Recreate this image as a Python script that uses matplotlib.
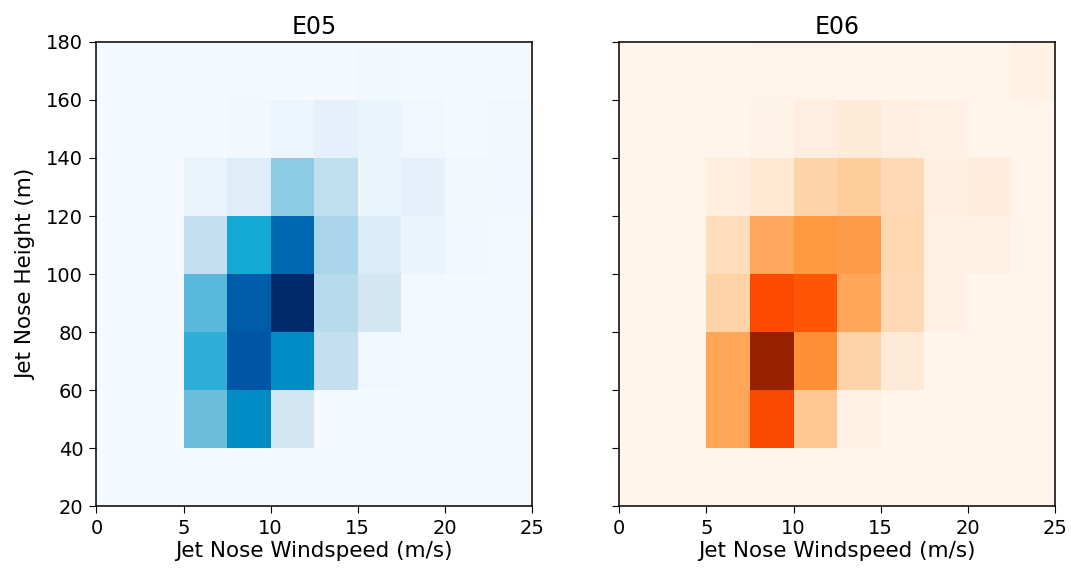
import numpy as np
import matplotlib
matplotlib.use("Agg")
from matplotlib import pyplot as plt
from matplotlib.colors import LinearSegmentedColormap

# bin edges of the 2D histograms
speed_edges = [0, 2.5, 5, 7.5, 10, 12.5, 15, 17.5, 20, 22.5, 25]
height_edges = [20, 40, 60, 80, 100, 120, 140, 160, 180]

# relative frequency (% of max), rows from 20-40 m up to 160-180 m
e05_counts = [
    [0, 0, 0, 0, 0, 0, 0, 0, 0, 0],
    [0, 0, 46, 68, 18, 0.8, 0, 0, 0, 0],
    [0, 0.8, 58, 82, 68, 25, 2.5, 0, 0, 0],
    [0, 0.8, 50, 80, 100, 28, 18, 1.5, 0, 0],
    [0, 1.5, 25, 62, 76, 31, 14, 6, 2.5, 0],
    [0, 0.5, 6, 12, 37.5, 26, 6, 9, 3, 2.5],
    [0, 0, 0, 2, 5, 9, 6, 2.5, 0, 3],
    [0, 0, 0, 1, 0, 0, 2, 1.5, 0, 0],
]

e06_counts = [
    [0, 0, 0, 0, 0, 0, 0, 0, 0, 0],
    [0, 0, 41, 75, 30, 4, 0, 0, 0, 0],
    [0, 0, 41, 100, 50, 24, 9, 0, 0, 0],
    [0, 0, 24, 73, 68, 41, 21, 4, 0, 0],
    [0, 0, 19, 40, 47, 45, 22, 4, 4, 0],
    [0, 0, 7, 12, 24, 27, 21, 5, 8, 0],
    [0, 0, 0, 2, 6, 9, 5, 4, 0, 0],
    [0, 0, 0, 1, 1, 0, 0, 0, 0, 3],
]

blues = LinearSegmentedColormap.from_list("blues_vivid", [
    (0.0, "#f5faff"), (0.1, "#e3eff9"), (0.25, "#c4dff0"), (0.375, "#8ecbe4"),
    (0.5, "#5bb8da"), (0.58, "#2eaed8"), (0.62, "#14a8d4"), (0.68, "#008ec6"),
    (0.76, "#0068b2"), (0.82, "#0056a5"), (1.0, "#002a6b")])
oranges = LinearSegmentedColormap.from_list("oranges_vivid", [
    (0.0, "#fff5eb"), (0.1, "#ffe9d6"), (0.2, "#ffdbb8"), (0.3, "#ffc790"),
    (0.4, "#ffa85c"), (0.5, "#ff9136"), (0.7, "#ff5000"), (0.75, "#fa4800"),
    (1.0, "#962200")])

plt.rcParams['xtick.labelsize'] = 14
plt.rcParams['ytick.labelsize'] = 14
plt.rcParams['xtick.major.size'] = 5
plt.rcParams['ytick.major.size'] = 5
plt.rcParams['xtick.major.pad'] = 4.5
plt.rcParams['ytick.major.pad'] = 4.5
plt.rcParams['axes.linewidth'] = 1.1

fig, axes = plt.subplots(1, 2, figsize=(10.71, 5.74), dpi=100, sharey=True)
fig.subplots_adjust(left=0.09, right=0.985, bottom=0.118, top=0.927, wspace=0.2)

for ax, counts, cmap, name in zip(axes, [e05_counts, e06_counts], [blues, oranges], ["E05", "E06"]):
    ax.pcolormesh(speed_edges, height_edges, np.array(counts), cmap=cmap, vmin=0, vmax=100)
    ax.set_xlim(0, 25)
    ax.set_ylim(20, 180)
    ax.set_xticks([0, 5, 10, 15, 20, 25])
    ax.set_yticks(range(20, 181, 20))
    ax.set_title(name, fontsize=17, pad=6)
    ax.set_xlabel('Jet Nose Windspeed (m/s)', fontsize=15.5, labelpad=2)

axes[0].set_ylabel('Jet Nose Height (m)', fontsize=15.5, labelpad=7)

plt.savefig("out.png", dpi=100)
